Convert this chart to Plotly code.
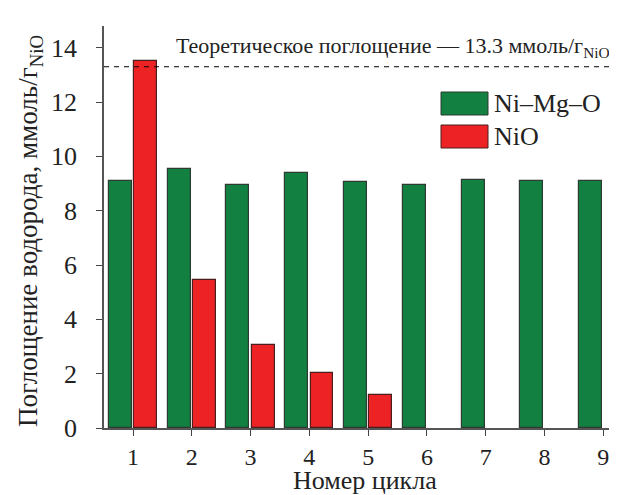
import plotly.graph_objects as go

cycles = [1, 2, 3, 4, 5, 6, 7, 8, 9]
ni_mg_o = [9.11, 9.55, 8.96, 9.38, 9.06, 8.93, 9.14, 9.09, 9.11]
nio_cycles = [1, 2, 3, 4, 5]
nio = [13.51, 5.44, 3.06, 2.03, 1.23]
theory = 13.3
y_ticks = [0, 2, 4, 6, 8, 10, 12, 14]

FONT = "Liberation Serif"
GREEN = "#118040"
RED = "#ED2224"
TXT = "#222"

fig = go.Figure()
fig.add_trace(go.Bar(x=cycles, y=ni_mg_o, name="Ni–Mg–O", marker=dict(color=GREEN, line=dict(color="#2f3a33", width=1.2)),
                     width=0.39, offset=-0.41, showlegend=False))
fig.add_trace(go.Bar(x=nio_cycles, y=nio, name="NiO", marker=dict(color=RED, line=dict(color="#4a1e1e", width=1.2)),
                     width=0.39, offset=0.02, showlegend=False))

fig.add_shape(type="line", xref="paper", yref="y", x0=0, x1=0.98, y0=theory, y1=theory,
              line=dict(color="black", width=1, dash="5px,5px"))
fig.add_annotation(xref="paper", yref="y", x=0.975, y=theory + 0.15, xanchor="right", yanchor="bottom",
                   text="Теоретическое поглощение — 13.3 ммоль/г<sub>NiO</sub>", showarrow=False,
                   font=dict(family=FONT, size=22, color=TXT))

# legend drawn manually
legend_items = [("Ni–Mg–O", GREEN, "#2f3a33"), ("NiO", RED, "#4a1e1e")]
for i, (lab, col, lc) in enumerate(legend_items):
    y0 = 1 - (84 + i * 33 - 18) / 402.0
    y1 = y0 - 23 / 402.0
    fig.add_shape(type="rect", xref="paper", yref="paper", x0=(433 - 96) / 521.0, x1=(480 - 96) / 521.0,
                  y0=y1, y1=y0, fillcolor=col, line=dict(color=lc, width=1))
    fig.add_annotation(xref="paper", yref="paper", x=(484 - 96) / 521.0, y=(y0 + y1) / 2, xanchor="left",
                       yanchor="middle", text=lab, showarrow=False, font=dict(family=FONT, size=26, color=TXT))

# axis titles as annotations for exact placement
fig.add_annotation(xref="paper", yref="paper", x=0.5, y=-(472 - 420) / 402.0, xanchor="center", yanchor="middle",
                   text="Номер цикла", showarrow=False, font=dict(family=FONT, size=26, color=TXT))
fig.add_annotation(xref="paper", yref="paper", x=(22 - 96) / 521.0, y=0.49, xanchor="center", yanchor="middle",
                   text="Поглощение водорода, ммоль/г<sub>NiO</sub>", textangle=-90, showarrow=False,
                   font=dict(family=FONT, size=27, color=TXT))

fig.update_layout(
    width=617, height=495,
    margin=dict(l=96, r=0, t=18, b=75),
    plot_bgcolor="white", paper_bgcolor="white",
    font=dict(family=FONT, size=24, color=TXT),
    bargap=0,
    xaxis=dict(range=[0.506, 9.37], tickvals=cycles, ticks="outside", ticklen=6, tickwidth=1.3, tickcolor="#444",
               showline=True, linecolor="#555", linewidth=1.5, showgrid=False, zeroline=False,
               tickfont=dict(family=FONT, size=24, color=TXT)),
    yaxis=dict(range=[0, 14.8], tickvals=y_ticks, ticks="outside", ticklen=6, tickwidth=1.3, tickcolor="#444",
               showline=True, linecolor="#555", linewidth=1.5, showgrid=False, zeroline=False,
               tickfont=dict(family=FONT, size=26, color=TXT), ticklabelstandoff=14),
)

fig.write_html("out.html")
